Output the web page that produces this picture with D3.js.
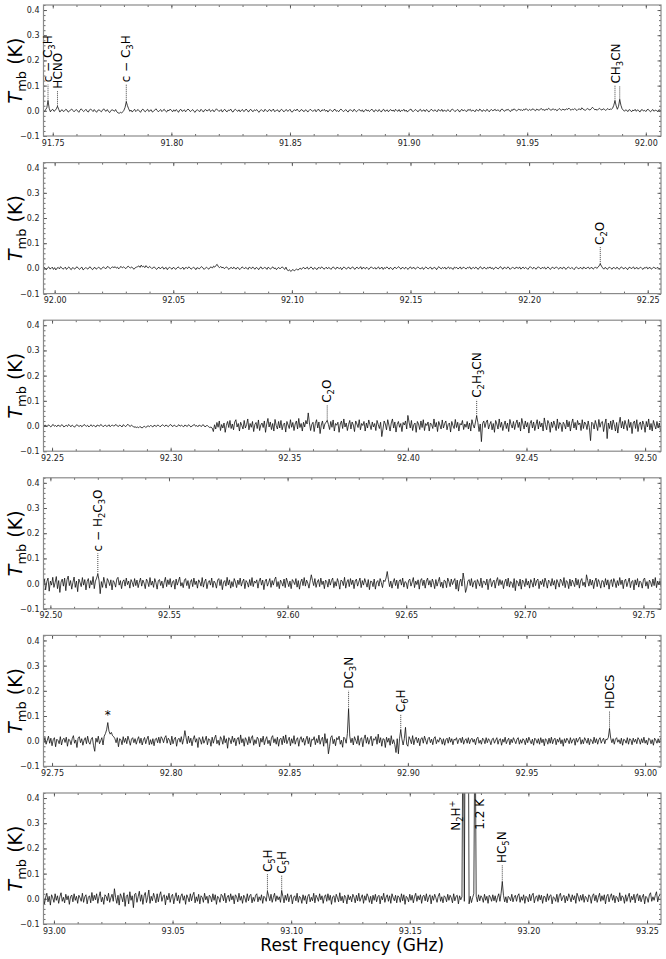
<!DOCTYPE html>
<html>
<head>
<meta charset="utf-8">
<script src="https://cdn.jsdelivr.net/npm/d3@7"></script>
<style>
  body { margin: 0; background: #fff; }
  svg { font-family: "DejaVu Sans", sans-serif; }
</style>
</head>
<body>
<div id="chart"></div>
<script>
// channel spacing (GHz) and first channel of each panel
const chanStep = 0.0005
const chanStart = [91.746, 91.995, 92.246, 92.497, 92.746, 92.995]

// antenna temperatures in mK, one value per channel
const spec1 = [
  2, -3, 5, 12, 40, 10, -4, 3, 6, -2, 1, 8, 18, 6, -5, 2, 4, -3, 0, 6,
  3, -5, -2, 4, 7, 1, -4, 2, 5, -1, -6, 3, 8, 2, -3, 1, 6, -2, -5, 4,
  7, 2, -3, 5, -1, -6, 2, 4, 0, -4, 3, 8, 1, -2, 5, -3, -7, 1, 4, 2,
  -2, 5, -4, -8, -10, -6, -9, -4, 2, 14, 36, 20, 8, -2, 3, -5, 1, 6, -3, 2,
  5, -1, -6, 3, 7, 0, -4, 2, 6, -3, 1, 4, -5, -2, 3, 8, 2, -4, 1, 5,
  -3, 2, 6, -1, -5, 3, 0, 7, 2, -4, 4, -2, 5, 1, -6, 3, 6, -2, 0, 4,
  -4, 2, 7, 3, -3, 1, 5, -2, -6, 2, 4, 0, -3, 6, 1, -5, 3, 5, -1, 2,
  6, -3, 1, 4, -4, 2, 8, 3, -2, 0, 5, -5, 2, 6, -1, -4, 3, 1, 7, -2,
  -5, 3, 6, 1, -2, 4, -4, 2, 5, -3, 0, 7, 2, -5, 3, 6, -1, -3, 4, 1,
  5, -2, -6, 2, 4, 0, -3, 6, 1, -4, 3, 5, -2, 1, 7, -3, -1, 4, 2, -5,
  3, 6, 0, -4, 2, 5, -2, 1, 6, -3, -5, 2, 4, 0, 7, 1, -4, 3, 5, -1,
  -3, 4, 2, -5, 1, 6, 3, -2, 0, 5, -4, 2, 7, -1, -3, 4, 1, 6, -2, 3,
  -5, 2, 5, 0, -3, 4, 6, -2, 1, -4, 3, 7, 2, -3, 0, 5, -1, -5, 3, 4,
  1, -3, 6, 2, -4, 0, 5, 3, -2, 4, -5, 1, 6, -1, 3, -3, 2, 7, 0, -4,
  4, 2, -3, 5, 1, -5, 3, 6, -2, 0, 4, -4, 2, 5, -1, 3, -3, 6, 1, -2,
  5, -4, 2, 0, 6, -2, 3, -5, 1, 4, 7, -1, -3, 2, 5, 0, -4, 3, 6, -2,
  1, 4, -3, 5, 2, -5, 0, 6, 3, -2, 4, 1, -4, 5, 2, -1, 6, -3, 3, 0,
  -2, 5, 1, -4, 4, 7, 2, -3, 0, 5, 3, -5, 2, 6, -1, 4, 0, -3, 5, 2,
  6, -2, 3, 1, -4, 5, 2, -1, 7, 3, -3, 4, 1, -2, 6, 2, -4, 3, 5, 0,
  3, 6, -1, 4, 2, -3, 5, 7, 1, -2, 4, 3, 6, 0, -3, 5, 2, 8, 3, -1,
  4, 7, 2, 5, 0, 6, 3, 9, 4, 1, 6, 2, 5, 8, 3, 0, 7, 4, 2, 6,
  9, 3, 5, 1, 7, 4, 10, 6, 2, 5, 8, 3, 6, 0, 4, 9, 5, 2, 7, 4,
  3, 8, 5, 11, 6, 2, 7, 4, 9, 5, 1, 6, 8, 3, 12, 7, 4, 2, 6, 9,
  5, 3, 8, 14, 9, 4, 6, 2, 7, 10, 5, 3, 8, 6, 2, 5, 9, 4, 7, 6,
  10, 22, 40, 20, 6, 18, 45, 22, 8, 3, -2, 4, 1, -3, 5, 2, -4, 3, 0, 6,
  -2, 4, 1, -5, 3, 5, -1, 2, -3, 4, 6, 0, -4, 2, 5, -2, 3, 1, -3, 4,
  2, -1
]
const spec2 = [
  -3, 4, 1, -5, 2, 6, -2, 0, 5, -4, 3, -6, 1, 4, -2, 7, 2, -3, 0, 5,
  -4, 2, 6, -1, -5, 3, 1, -3, 4, 6, 0, -4, 2, 5, -6, -2, 3, 1, -3, 4,
  6, -1, -5, 2, 4, -3, 0, 5, 2, -4, 1, 6, 3, -2, 5, 8, 2, -1, 4, 6,
  3, 7, 1, 5, -2, 4, 8, 2, 6, 3, -1, 5, 9, 4, 2, 6, 0, -3, 3, 5,
  7, 10, 4, 13, 6, 9, 3, 11, 5, 2, 8, 4, -1, 3, 6, 0, -4, 2, 5, -2,
  3, 6, -3, 1, 4, -5, 2, 5, 0, -3, 4, 2, -4, 1, 6, 3, -2, 0, 5, -4,
  2, 4, -1, 6, 3, -3, 0, 5, 2, -5, 3, 1, -2, 4, 7, 2, -4, 1, 5, 0,
  -3, 4, 6, 1, 9, 5, 12, 16, 7, 3, 8, 2, 5, -1, 3, 6, 0, -4, 2, 4,
  -2, 5, 1, -3, 4, 2, -5, 0, 6, 3, -2, 4, 1, -4, 5, 2, -1, 6, 0, -3,
  4, 1, -5, 3, 6, -2, 0, 4, 2, -4, 5, 1, -3, 3, 6, -1, 2, -5, 1, 4,
  -2, 3, 6, 0, -4, 5, -6, -9, -5, -12, -8, -4, -10, -6, -2, -7, -3, 1, -4, 2,
  4, -2, 1, 5, -3, 0, 6, 2, -4, 3, 1, -5, 2, 4, -1, 6, 3, -3, 0, 5,
  -2, 4, 1, -4, 3, 6, 0, -3, 5, 2, -1, 4, -5, 2, 6, 1, -3, 3, 5, -2,
  0, 6, 3, -4, 2, 5, -1, 1, 7, -3, 4, 2, -2, 5, 0, -4, 3, 6, 1, -1,
  4, -3, 2, 6, -2, 1, 5, -4, 3, 0, 6, 2, -3, 4, 1, -5, 2, 5, -1, 3,
  7, 1, -3, 4, 2, -2, 5, 0, -4, 3, 6, -1, 2, 4, -3, 1, 5, 3, -2, 0,
  4, -4, 2, 6, 1, -2, 3, 5, -3, 0, 4, 2, -5, 3, 7, 1, -2, 4, 0, 5,
  -3, 2, 6, -1, 3, 0, -4, 5, 2, 4, -2, 1, 6, -3, 3, 5, 0, -2, 4, 2,
  6, -3, 1, 4, -1, 5, 2, -4, 3, 7, 0, -2, 5, 2, -3, 4, 1, 6, -1, 3,
  -4, 2, 5, 1, -2, 4, 7, 0, -3, 5, 2, -1, 6, 3, -4, 1, 4, 2, -2, 5,
  3, 0, 6, -3, 2, 5, -1, 4, 1, -4, 3, 7, 2, -2, 5, 0, -3, 4, 6, 1,
  -2, 4, 1, 5, -3, 2, 6, 0, -4, 3, 5, -1, 2, 6, 1, -3, 4, 2, -2, 5,
  3, -4, 1, 6, 2, -1, 4, 0, -5, 3, 5, 1, -2, 4, 2, -3, 6, 1, -1, 3,
  5, -2, 2, 4, -3, 1, 6, 0, 4, 10, 18, 9, 2, -3, 4, 1, -4, 3, 5, 0,
  -3, 4, 2, -2, 5, 1, -4, 3, 6, 0, -2, 4, 1, -5, 3, 5, -1, 2, 6, -2,
  1, 4, -3, 2, 5, 0, -4, 3, 1, 6, -2, 2, 4, -3, 0, 5, 2, -1, 4, 1,
  -2, 3
]
const spec3 = [
  2, -3, 4, 1, -2, 5, 0, -4, 3, 6, -1, 2, -3, 4, 1, -2, 5, 3, -4, 0,
  3, -2, 6, 1, -3, 4, 0, -5, 2, 5, 1, -2, 4, -3, 0, 6, 2, -1, 3, -4,
  1, 5, -2, 3, 0, -4, 4, 2, -1, 6, 3, -3, 1, 4, -2, 0, 5, -3, 2, 4,
  -1, 3, 6, 0, -2, 4, 1, -4, 5, 2, -3, 3, 7, 1, -2, 4, 0, -5, -3, -6,
  -4, -7, -2, -5, -8, -3, -1, -6, -2, 1, -3, 2, 0, -4, 3, 1, -2, 4, 2, -3,
  0, 5, 2, -2, 4, 1, -3, 3, 6, 0, -2, 4, 1, -4, 2, 5, -1, 3, 0, -3,
  4, 1, -2, 5, 2, -4, 0, 3, 6, -1, 2, -3, 4, 1, -2, 5, 3, -4, 1, 2,
  -3, -6, -4, -8, -22, 5, -12, 14, -5, 20, -18, 6, -8, 12, -25, 3, 18, -6, 22, -10,
  8, -15, 16, 25, -4, 10, -20, 15, 2, -12, 22, -8, 5, 28, -15, 10, -5, 18, -22, 6,
  14, -10, 24, -18, 4, 12, -6, 20, -25, 8, 30, -4, 16, -14, 10, -20, 26, 2, -12, 18,
  -8, 22, -15, 6, 12, -24, 18, 4, -10, 25, -5, 14, -18, 8, 20, -12, 30, -6, 10, -20,
  15, -4, 22, 8, 52, 12, -18, 6, 15, -22, 10, 25, -8, 16, -30, 4, 20, -12, 8, 15,
  22, 6, -14, 18, -5, 24, -20, 10, 3, 15, -25, 8, 20, -10, 28, -4, 12, -18, 6, 22,
  -12, 16, 4, -22, 20, 8, -6, 25, -15, 10, 2, 18, -20, 12, -8, 24, 5, -14, 16, -4,
  10, -18, 22, 6, -10, 15, -42, -12, 20, 8, -15, 25, 4, -20, 12, 28, -8, 16, -24, 6,
  18, -5, 10, -22, 14, 4, 20, -12, 42, 15, -8, 22, -18, 5, 12, -25, 18, 8, -14, 20,
  -6, 25, -18, 10, 2, 16, -20, 12, 6, -10, 28, -4, 14, -22, 18, 4, -12, 24, -8, 10,
  20, -15, 6, 12, -24, 18, 2, -10, 26, -6, 15, -20, 10, 4, 22, -14, 8, -5, 18, -12,
  12, -20, 25, 5, -8, 16, 40, 14, -22, 8, -62, 10, 20, -6, 15, 24, -12, 6, 18, -15,
  10, -25, 22, 8, -12, 28, -5, 15, -18, 4, 20, -10, 12, -22, 26, 6, -8, 18, -14, 10,
  24, -6, 15, -20, 30, 8, -12, 20, -4, 14, -28, 10, 22, -8, 16, -18, 5, 25, -12, 18,
  -4, 12, -20, 32, 6, -15, 22, 10, -25, 16, -6, 20, 4, -18, 28, -10, 14, 8, -22, 15,
  6, -12, 24, -4, 18, -20, 10, 28, -8, 14, -15, 22, 5, 12, -18, 25, -10, 16, 8, -14,
  20, -6, -58, 15, 10, -12, 22, 4, -18, 26, -5, 14, 18, -22, 8, 28, -50, 12, -10, 20,
  -15, 24, 6, -20, 14, -28, 10, 35, -8, 18, -12, 22, 4, -18, 26, -6, 15, -30, 12, 20,
  -10, 25, -22, 8, 16, -14, 20, 6, -25, 18, -4, 28, -15, 10, -20, 22, 4, -12, 18, -8,
  12, -20
]
const spec4 = [
  -12, 18, -25, 8, 22, -30, 10, -6, 25, -15, 4, 28, -20, 12, -35, 6, 18, -10, 22, -28,
  15, 30, -8, 12, -22, 5, 26, -15, 10, -32, 18, 4, -12, 24, -6, 16, -25, 8, 20, -18,
  12, -5, 28, -20, 10, 22, 38, 14, -40, 8, -15, 25, 2, -18, 20, 10, -8, 15, -25, 12,
  4, -14, 18, 25, -6, 12, -20, 8, 15, -10, 22, -4, 10, -18, 16, 5, -12, 20, -8, 14,
  -16, 6, 22, -10, 14, 2, -20, 18, 8, -12, 24, -6, 10, -15, 20, 4, -22, 12, 16, -8,
  10, -18, 6, 25, -12, 15, -4, 20, -14, 8, 12, -22, 18, -6, 10, 26, -10, 4, -16, 14,
  20, -8, 12, -20, 5, 16, -12, 22, -4, 10, -18, 15, 6, -10, 24, -14, 8, 18, -20, 4,
  12, -6, 22, -15, 10, 2, -18, 14, 20, -8, 16, -24, 6, 12, -10, 25, -5, 15, -18, 8,
  -12, 20, 6, -16, 14, -4, 22, -10, 8, 18, -20, 12, 4, -14, 16, -8, 24, -12, 10, 2,
  15, -18, 10, 22, -6, 14, -24, 8, 18, -10, 4, 20, -15, 12, -6, 16, 26, -12, 8, -20,
  14, 4, -10, 18, -16, 22, 6, -12, 10, -20, 16, 8, -4, 20, -14, 12, -22, 6, 18, -8,
  24, -10, 14, 2, -18, 10, 35, 12, -8, 20, -15, 6, 16, -12, 22, -4, 10, -20, 14, 8,
  -14, 18, -6, 12, 22, -16, 8, -10, 20, 4, -22, 14, 10, -8, 25, -18, 6, 16, -12, 20,
  -4, 14, -20, 10, 18, -10, 6, 22, -16, 12, -6, 20, 4, -14, 16, -24, 10, 8, -12, 18,
  -22, 6, 12, -10, 20, 4, -16, 14, 8, 22, 48, 15, -12, 10, -18, 6, 20, -8, 14, -20,
  10, 16, -6, 22, -14, 8, 4, -20, 12, 18, -10, 6, 24, -16, 10, -4, 15, -22, 12, 20,
  -8, 14, -18, 10, 22, -6, 12, -14, 18, 4, -20, 16, -10, 8, 25, -12, 6, -18, 14, 10,
  -16, 22, 8, -12, 18, -4, 10, 20, -22, 14, -30, 6, 18, -10, 42, 12, -35, -18, 10, 16,
  -8, 20, -14, 6, 12, -20, 16, 4, -10, 22, -16, 10, 8, -6, 18, -24, 12, 20, -12, 6,
  14, -18, 10, 24, -8, 16, -4, 12, -20, 6, 18, -10, 22, -14, 8, 4, -16, 20, -28, 12,
  6, -10, 18, -22, 14, 8, -12, 20, -6, 10, -18, 16, 4, -14, 22, -8, 12, 18, -20, 10,
  -4, 16, -12, 22, 6, -18, 14, 8, -10, 20, -6, 12, -22, 16, 4, -14, 18, 10, -8, 24,
  -16, 12, 6, -20, 18, -10, 14, 4, -12, 22, -6, 16, -18, 10, 20, -8, 6, -14, 35, 12,
  -10, 18, -6, 14, -20, 8, 22, -12, 16, 4, -18, 12, 10, -14, 20, -6, 15, -22, 8, 16,
  -12, 20, 6, -16, 12, -8, 24, -4, 14, -20, 10, 18, -12, 6, 22, -16, 8, 12, -25, 15,
  -6, 20, -14, 10, 4, -18, 16, 22, -10, 8, -20, 14, 6, -12, 18, -8, 24, -16, 10, -4,
  12, -14
]
const spec5 = [
  10, -6, 15, -12, 4, 20, -8, 12, -18, 6, 14, -22, 8, 3, -10, 18, -15, 6, 12, -5,
  16, -20, 8, 4, -14, 10, 22, -8, 5, -25, 12, 18, -6, 10, -16, 4, 14, -10, 20, -4,
  -12, 8, 15, -18, -40, 12, -4, 20, -10, 2, 14, -15, 20, 30, 45, 74, 40, 28, 35, 22,
  18, 10, -6, 14, -22, 10, 6, -14, 18, -5, 12, -10, 20, 4, -16, 8, 14, -6, 10, -12,
  6, 18, -8, 12, -15, 4, 15, -10, 8, 20, -14, 6, -12, 10, -18, 8, 12, -6, 16, -8,
  18, 10, -6, 14, 22, -8, 12, 4, -15, 20, -10, 8, 16, -20, 6, 12, -4, 18, -12, 10,
  42, 14, -10, 20, -6, 12, -18, 8, 22, -4, 10, -25, 15, 6, -12, 18, -8, 4, 20, -14,
  10, 6, -20, 16, -8, 12, 24, -10, 4, -16, 18, 8, -12, 22, -6, 10, -28, 14, 6, -10,
  20, -4, 12, -18, 8, 15, -12, 25, -6, 10, -20, 14, 4, -14, 18, -8, 12, 22, -16, 6,
  -10, 16, 8, -22, 12, -4, 20, -14, 6, 18, -10, 4, -18, 14, 22, -6, 10, -12, 16, -20,
  8, 12, -14, 20, -6, 25, -10, 4, 16, -18, 10, -8, 22, -12, 6, 14, -20, 8, 18, -4,
  12, -16, 6, 20, -10, 14, -22, 8, 4, 18, -14, 10, -6, 24, -12, 6, 16, -20, 30, -8,
  10, -50, -20, 15, 22, -10, 8, -18, 14, 6, 20, -12, 4, -24, 16, 10, -8, 30, 127, 20,
  -6, 12, -15, 18, 4, -10, 22, -16, 8, 14, -22, 10, 25, -8, 15, -12, 6, 20, -18, 10,
  4, 18, -12, 28, -6, 14, -20, 10, 8, -25, 16, -4, 12, -16, 22, -10, 6, -14, -45, 10,
  -50, 12, 45, 8, -15, 10, 55, -12, -20, 18, 6, -10, 22, -14, 8, 16, -6, 12, -18, 10,
  14, -8, 20, 4, -12, 10, 16, -6, 8, -14, 12, 18, -10, 6, -4, 14, 8, -12, 10, -16,
  6, 12, -8, 16, -4, 10, -14, 8, 4, 14, -10, 6, 12, -6, 16, -12, 4, 10, -8, 14,
  -10, 6, 12, -4, 8, -14, 10, 16, -8, 4, -12, 12, 6, -10, 14, -6, 10, 2, -14, 8,
  12, -8, 4, 14, -12, 6, 10, -16, 8, -4, 16, -10, 4, 12, -14, 8, -6, 14, 2, -10,
  8, 14, -12, 6, -8, 10, 4, -14, 12, -6, 16, 2, -10, 8, -16, 12, 6, -8, 10, -12,
  14, -6, 8, -18, 10, 4, -12, 12, -8, 16, -10, 6, 12, -14, 8, -4, 14, -10, 6, -20,
  10, -6, 12, 4, -10, 14, -8, 6, 10, -16, 12, -4, 8, 16, -12, 6, -10, 14, 4, -8,
  12, -14, 8, 4, -10, 16, -6, 10, -12, 6, 14, -8, 4, 12, -10, 8, 6, 15, 50, 12,
  -6, 10, -12, 8, 14, -4, 6, -10, 12, -16, 8, 4, -8, 14, -12, 10, 6, -14, 12, -4,
  8, -10, 14, 6, -12, 10, -6, 16, -8, 4, -14, 12, 8, -10, 6, -16, 12, 4, -8, 10,
  -6, 12
]
const spec6 = [
  -8, 14, -20, 6, 22, -12, 10, -25, 16, 4, -14, 20, -6, 12, -18, 8, 24, -10, 6, -16,
  18, -4, 12, -22, 8, 15, -12, 20, -6, 10, -18, 14, 4, -10, 22, -14, 8, 16, -20, 6,
  12, -16, 25, -8, 14, -4, 20, -18, 8, 28, -12, 6, -22, 16, 10, -8, 22, -14, 4, 18,
  -10, 40, 6, -18, 14, -25, 20, 8, -12, 24, -30, 10, 16, -20, 28, -6, 12, -35, 18, 22,
  -14, 8, 30, -10, 16, -22, 12, 25, -15, 6, 35, -18, 10, -8, 22, 4, -16, 20, -12, 14,
  28, -10, 8, 16, -24, 12, -4, 22, -14, 10, 18, -20, 6, 24, -8, 14, -18, 10, 20, -6,
  12, -22, 16, 4, -12, 20, -8, 14, 26, -16, 8, -10, 18, -20, 12, 6, -14, 22, -4, 10,
  -18, 14, 8, -12, 20, -6, 16, -22, 10, 4, -14, 18, 12, -8, 22, -16, 6, 14, -10, 20,
  -4, 12, -20, 16, 8, -12, 22, -6, 10, -18, 14, 4, -14, 20, -8, 12, 18, -16, 6, -10,
  14, 20, -12, 8, -6, 16, -18, 10, 4, -10, 30, 12, -8, 18, -14, 6, 22, -10, 12, -4,
  8, -14, 32, 10, -16, 14, -6, 20, -12, 8, 16, -20, 6, 12, -8, 22, -14, 10, 4, -18,
  16, -6, 12, -20, 10, 18, -12, 6, -8, 22, -16, 14, 4, -10, 20, -4, 12, -18, 8, 16,
  -10, 20, -6, 14, -22, 8, 12, -14, 18, 4, -12, 24, -8, 10, -16, 14, 6, -20, 16, -4,
  10, -12, 18, 6, -16, 14, -8, 22, -10, 4, 16, -18, 12, -6, 20, 8, -14, 10, -20, 14,
  -6, 18, -12, 8, 14, -20, 10, -4, 22, -14, 6, 16, -10, 12, -18, 20, 4, -8, 14, -16,
  12, 6, -14, 20, -8, 16, -22, 10, 4, -12, 18, -6, 14, -16, 8, 22, -10, 12, -4, 16,
  -18, 10, 14, -8, 20, -12, 6, 16, -20, 12, -6, 18, 4, -14, 10, 22, -10, 8, -16, 12,
  6, -12, 18, -6, 14, 4, -16, 20, -8, 10, 14, -20, 12, -4, 8, 900, -10, 1100, 600, 1200,
  -20, 10, -15, 5, 20, 800, 10, -12, 16, -8, 12, 4, -14, 18, -6, 10, -18, 14, 6, -10,
  16, -8, 12, -14, 6, 20, -10, 22, 68, 14, -12, 8, -16, 10, 4, -8, 18, -12, 6, 14,
  -10, 12, 20, -14, 8, -6, 16, -18, 10, 4, -12, 18, -8, 14, 22, -16, 6, 12, -10, 16,
  -4, 14, -18, 10, 8, -12, 20, -6, 12, 16, -20, 8, 4, -10, 18, -14, 12, 22, -8, 6,
  14, -16, 10, -8, 20, 6, -12, 16, -4, 12, -18, 22, 8, -10, 14, -6, 18, -14, 10, 4,
  -12, 16, 8, -18, 12, 20, -8, 14, -14, 6, 22, -10, 12, -6, 16, -20, 10, 18, -12, 8,
  20, -6, 14, -16, 10, 4, -12, 24, -8, 12, 6, -18, 16, -10, 8, 22, -14, 10, -4, 18,
  -16, 12, 20, -8, 14, -12, 6, 18, -20, 10, 4, -14, 16, 24, -10, 8, -6, 14, 28, -12,
  10, 16
]
const spectra = [spec1, spec2, spec3, spec4, spec5, spec6]

// frequency window of each panel (GHz)
const xDomains = [
  [91.7461, 92.0064], [91.9953, 92.2556], [92.2464, 92.5067],
  [92.4971, 92.7574], [92.7464, 93.0067], [92.9956, 93.2559]
]
const xTicks = [
  [91.75, 91.80, 91.85, 91.90, 91.95, 92.00],
  [92.00, 92.05, 92.10, 92.15, 92.20, 92.25],
  [92.25, 92.30, 92.35, 92.40, 92.45, 92.50],
  [92.50, 92.55, 92.60, 92.65, 92.70, 92.75],
  [92.75, 92.80, 92.85, 92.90, 92.95, 93.00],
  [93.00, 93.05, 93.10, 93.15, 93.20, 93.25]
]
const yDomain = [-0.1, 0.42]
const yTicks = [-0.1, 0.0, 0.1, 0.2, 0.3, 0.4]

// line identifications: text, text position, marked channels, their peaks and the marker top (K)
const labels1 = [
  { t: 'c − C_3H', x: 91.748, f: [91.748], p: [0.040], top: 0.105 },
  { t: 'HCNO', x: 91.752, f: [91.752], p: [0.018], top: 0.080 },
  { t: 'c − C_3H', x: 91.781, f: [91.781], p: [0.036], top: 0.105 },
  { t: 'CH_3CN', x: 91.9875, f: [91.987, 91.989], p: [0.040, 0.045], top: 0.100 }
]
const labels2 = [
  { t: 'C_2O', x: 92.230, f: [92.230], p: [0.018], top: 0.085 }
]
const labels3 = [
  { t: 'C_2O', x: 92.366, f: [92.366], p: [0.022], top: 0.084 },
  { t: 'C_2H_3CN', x: 92.429, f: [92.429], p: [0.040], top: 0.104 }
]
const labels4 = [
  { t: 'c − H_2C_3O', x: 92.520, f: [92.520], p: [0.038], top: 0.120 }
]
const labels5 = [
  { t: '*', x: 92.7735, f: [], p: [], top: 0.104, flat: true },
  { t: 'DC_3N', x: 92.875, f: [92.875], p: [0.127], top: 0.200 },
  { t: 'C_6H', x: 92.897, f: [92.897], p: [0.045], top: 0.107 },
  { t: 'HDCS', x: 92.985, f: [92.985], p: [0.050], top: 0.120 }
]
const labels6 = [
  { t: 'C_5H', x: 93.090, f: [93.090], p: [0.030], top: 0.098 },
  { t: 'C_5H', x: 93.096, f: [93.096], p: [0.032], top: 0.092 },
  { t: 'N_2H^+', x: 93.1692, f: [], p: [], top: 0.262 },
  { t: '1.2 K', x: 93.1795, f: [], p: [], top: 0.266 },
  { t: 'HC_5N', x: 93.189, f: [93.189], p: [0.068], top: 0.134 }
]
const labels = [labels1, labels2, labels3, labels4, labels5, labels6]

const width = 666, height = 959
const margin = { left: 43.5, top: 5 }
const plotW = 617.5, plotH = 131, panelGap = 157.6

const svg = d3.select('#chart').append('svg')
  .attr('width', width)
  .attr('height', height)

// text with _x subscripts and ^x superscripts
const richText = (sel, str, size) => {
  let shift = 0
  for (let k = 0; k < str.length; k++) {
    let c = str[k], s = 0
    if ((c === '_' || c === '^') && k + 1 < str.length) {
      s = c === '_' ? 3 : -5
      c = str[++k]
    }
    const span = sel.append('tspan').text(c)
    if (s !== 0) span.attr('font-size', size * 0.7)
    if (s !== shift) span.attr('dy', s - shift)
    shift = s
  }
}

spectra.forEach((vals, i) => {
  const top = margin.top + i * panelGap
  const g = svg.append('g').attr('transform', 'translate(' + margin.left + ',' + top + ')')

  const x = d3.scaleLinear().domain(xDomains[i]).range([0, plotW])
  const y = d3.scaleLinear().domain(yDomain).range([plotH, 0])

  g.append('clipPath').attr('id', 'clip' + i)
    .append('rect').attr('width', plotW).attr('height', plotH)

  const pts = vals.map((v, j) => [chanStart[i] + j * chanStep, v / 1000])
  g.append('path')
    .datum(pts)
    .attr('clip-path', 'url(#clip' + i + ')')
    .attr('fill', 'none')
    .attr('stroke', '#111')
    .attr('stroke-width', 0.8)
    .attr('d', d3.line().x(d => x(d[0])).y(d => y(d[1])))

  // ticks on all four sides, pointing in
  const minorX = d3.range(Math.ceil(xDomains[i][0] * 100), Math.floor(xDomains[i][1] * 100) + 1).map(k => k / 100)
  const minorY = d3.range(-5, 22).map(k => k / 50)

  const axes = [
    [d3.axisBottom(x).tickValues(xTicks[i]).tickFormat(d3.format('.2f')), 'translate(0,' + plotH + ')', 3.5],
    [d3.axisBottom(x).tickValues(minorX).tickFormat(''), 'translate(0,' + plotH + ')', 2],
    [d3.axisTop(x).tickValues(xTicks[i]).tickFormat(''), 'translate(0,0)', 3.5],
    [d3.axisTop(x).tickValues(minorX).tickFormat(''), 'translate(0,0)', 2],
    [d3.axisLeft(y).tickValues(yTicks).tickFormat(d3.format('.1f')), 'translate(0,0)', 3.5],
    [d3.axisLeft(y).tickValues(minorY).tickFormat(''), 'translate(0,0)', 2],
    [d3.axisRight(y).tickValues(yTicks).tickFormat(''), 'translate(' + plotW + ',0)', 3.5],
    [d3.axisRight(y).tickValues(minorY).tickFormat(''), 'translate(' + plotW + ',0)', 2]
  ]
  axes.forEach(([ax, tr, len]) => {
    const a = g.append('g').attr('transform', tr)
      .call(ax.tickSizeInner(-len).tickSizeOuter(0).tickPadding(4))
    a.attr('font-family', null).attr('font-size', 8)
    a.select('.domain').remove()
    a.selectAll('line').attr('stroke', '#444').attr('stroke-width', 0.8)
    a.selectAll('text').attr('fill', '#222')
  })

  g.append('rect')
    .attr('width', plotW).attr('height', plotH)
    .attr('fill', 'none')
    .attr('stroke', '#8a8a8a')
    .attr('stroke-width', 1.2)

  // line identifications
  labels[i].forEach(l => {
    l.f.forEach((f, k) => {
      g.append('line')
        .attr('x1', x(f)).attr('x2', x(f))
        .attr('y1', y(l.p[k])).attr('y2', y(l.top))
        .attr('stroke', '#111')
        .attr('stroke-width', 0.8)
        .attr('stroke-dasharray', '1,1')
    })
    if (l.flat) {
      g.append('text')
        .attr('x', x(l.x)).attr('y', y(l.top))
        .attr('text-anchor', 'middle')
        .attr('dominant-baseline', 'central')
        .attr('font-size', 12)
        .text(l.t)
      return
    }
    const txt = g.append('text')
      .attr('transform', 'translate(' + x(l.x) + ',' + (y(l.top) - 2) + ') rotate(-90)')
      .attr('dy', '0.35em')
      .attr('font-size', 12)
    richText(txt, l.t, 12)
  })

  // y label
  const yl = svg.append('text')
    .attr('transform', 'translate(22,' + (top + plotH / 2) + ') rotate(-90)')
    .attr('text-anchor', 'middle')
    .attr('font-size', 19)
  yl.append('tspan').attr('font-style', 'italic').text('T')
  yl.append('tspan').attr('font-size', 13).attr('dy', 4).text('mb')
  yl.append('tspan').attr('dy', -4).text(' (K)')
})

svg.append('text')
  .attr('x', margin.left + plotW / 2)
  .attr('y', 951)
  .attr('text-anchor', 'middle')
  .attr('font-size', 17)
  .text('Rest Frequency (GHz)')
</script>
</body>
</html>
